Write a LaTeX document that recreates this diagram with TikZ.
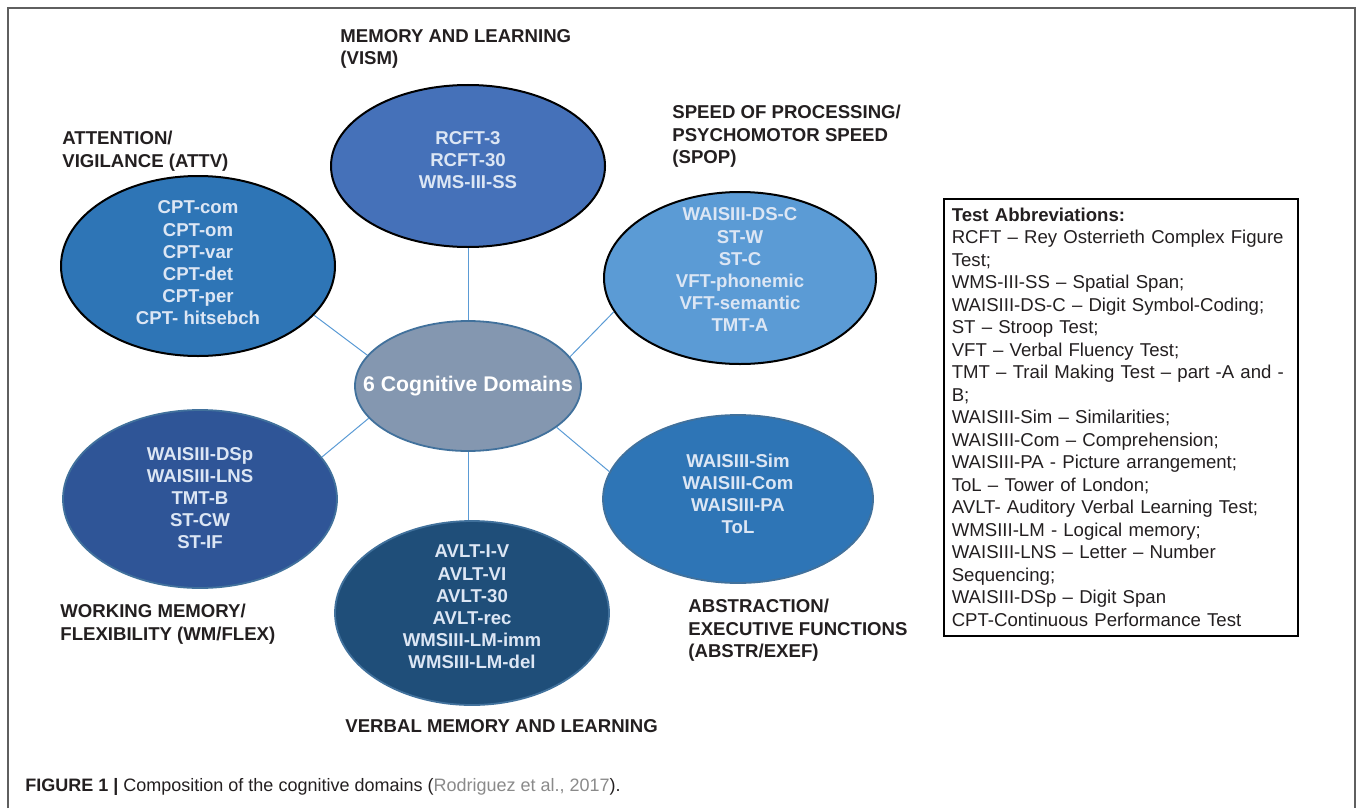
\documentclass[tikz,border=0pt]{standalone}
\usepackage{fontspec}
\setmainfont{Liberation Sans}
\usetikzlibrary{shapes.geometric}

\definecolor{ink}{HTML}{231F20}
\definecolor{framegray}{HTML}{5F5F5F}
\definecolor{citegray}{HTML}{8A8A8A}
\definecolor{testtxt}{HTML}{DCE6F4}
\definecolor{rimblue}{HTML}{41719C}
\definecolor{spokeblue}{HTML}{5B9BD5}
\definecolor{vismfill}{HTML}{4571B9}
\definecolor{attvfill}{HTML}{2E75B6}
\definecolor{spopfill}{HTML}{5B9BD5}
\definecolor{ctrfill}{HTML}{8497B0}
\definecolor{wmfill}{HTML}{2F5597}
\definecolor{verbfill}{HTML}{1F4E79}
\definecolor{abstrfill}{HTML}{2E75B6}

\begin{document}
\begin{tikzpicture}[x=0.5pt, y=-0.5pt,
    dom/.style={ellipse, draw=black, line width=1pt, inner sep=0pt},
    domb/.style={dom, draw=rimblue, line width=0.9pt},
    tests/.style={align=center, inner sep=0pt, text=testtxt, font=\bfseries\fontsize{9.3}{11.1}\selectfont},
    head/.style={anchor=north west, inner sep=0pt, align=left, text=ink, font=\bfseries\fontsize{9.3}{11.25}\selectfont},
    spoke/.style={draw=spokeblue, line width=0.5pt}]
    \useasboundingbox (0,0) rectangle (1358,808);
    \draw[framegray, line width=1pt] (8,808) -- (8,8) -- (1355,8) -- (1355,808);

    % domains
    \node[domb, fill=ctrfill, minimum width=113pt, minimum height=65pt] (ctr) at (468,386) {};
    \node[dom, fill=vismfill, minimum width=137pt, minimum height=81pt] (vism) at (468,166) {};
    \node[dom, fill=attvfill, minimum width=137pt, minimum height=90pt] (attv) at (198,266) {};
    \node[dom, fill=spopfill, minimum width=136pt, minimum height=86pt] (spop) at (740,278) {};
    \node[domb, fill=wmfill, minimum width=137pt, minimum height=89pt] (wm) at (200,499) {};
    \node[domb, fill=verbfill, minimum width=137pt, minimum height=92pt] (verb) at (472,613) {};
    \node[domb, fill=abstrfill, minimum width=135pt, minimum height=84pt] (abstr) at (738,499) {};

    \node[text=white, font=\bfseries\fontsize{10.6}{12}\selectfont, inner sep=0pt] (ctrtxt) at (468,386) {6 Cognitive Domains};
    \node[tests] (visml) at (468,160) {RCFT-3\\RCFT-30\\WMS-III-SS};
    \node[tests] (attvl) at (198,263) {CPT-com\\CPT-om\\CPT-var\\CPT-det\\CPT-per\\CPT- hitsebch};
    \node[tests] (spopl) at (740,270) {WAISIII-DS-C\\ST-W\\ST-C\\VFT-phonemic\\VFT-semantic\\TMT-A};
    \node[tests] (wml) at (200,498) {WAISIII-DSp\\WAISIII-LNS\\TMT-B\\ST-CW\\ST-IF};
    \node[tests] (verbl) at (472,607) {AVLT-I-V\\AVLT-VI\\AVLT-30\\AVLT-rec\\WMSIII-LM-imm\\WMSIII-LM-del};
    \node[tests] (abstrl) at (738,494) {WAISIII-Sim\\WAISIII-Com\\WAISIII-PA\\ToL};

    % spokes
    \draw[spoke] (ctr) -- (vism);
    \draw[spoke] (ctr.163) -- (attv.-23);
    \draw[spoke] (ctr.16) -- (spop.-165);
    \draw[spoke] (ctr.198) -- (wm.19);
    \draw[spoke] (ctr.-25) -- (abstr.168);
    \draw[spoke] (ctr.south) -- (ctr.south |- verb.north);

    % domain names
    \node[head] (vismh) at (340,29) {MEMORY AND LEARNING\\(VISM)};
    \node[head] (attvh) at (62,131) {ATTENTION/\\VIGILANCE (ATTV)};
    \node[head] (spoph) at (672,105) {SPEED OF PROCESSING/\\PSYCHOMOTOR SPEED\\(SPOP)};
    \node[head] (wmh) at (60,604) {WORKING MEMORY/\\FLEXIBILITY (WM/FLEX)};
    \node[head] (abstrh) at (688,599) {ABSTRACTION/\\EXECUTIVE FUNCTIONS\\(ABSTR/EXEF)};
    \node[head] (verbh) at (345,719) {VERBAL MEMORY AND LEARNING};

    % abbreviations
    \node[draw=black, line width=0.8pt, anchor=north west, inner xsep=4pt, inner ysep=4.6pt,
          text width=169pt, align=left, text=ink, font=\fontsize{9.3}{11.25}\selectfont] (abbr) at (943,198)
      {\textbf{Test Abbreviations:}\\
       RCFT -- Rey Osterrieth Complex Figure\\
       Test;\\
       WMS-III-SS -- Spatial Span;\\
       WAISIII-DS-C -- Digit Symbol-Coding;\\
       ST -- Stroop Test;\\
       VFT -- Verbal Fluency Test;\\
       TMT -- Trail Making Test -- part -A and -\\
       B;\\
       WAISIII-Sim -- Similarities;\\
       WAISIII-Com -- Comprehension;\\
       WAISIII-PA - Picture arrangement;\\
       ToL -- Tower of London;\\
       AVLT- Auditory Verbal Learning Test;\\
       WMSIII-LM - Logical memory;\\
       WAISIII-LNS -- Letter -- Number\\
       Sequencing;\\
       WAISIII-DSp -- Digit Span\\
       CPT-Continuous Performance Test};

    \node[anchor=west, inner sep=0pt, text=ink, font=\fontsize{9}{11}\selectfont] (cap) at (25,787)
      {\textbf{FIGURE 1 |} Composition of the cognitive domains ({\color{citegray}Rodriguez et al., 2017}).};
\end{tikzpicture}
\end{document}
